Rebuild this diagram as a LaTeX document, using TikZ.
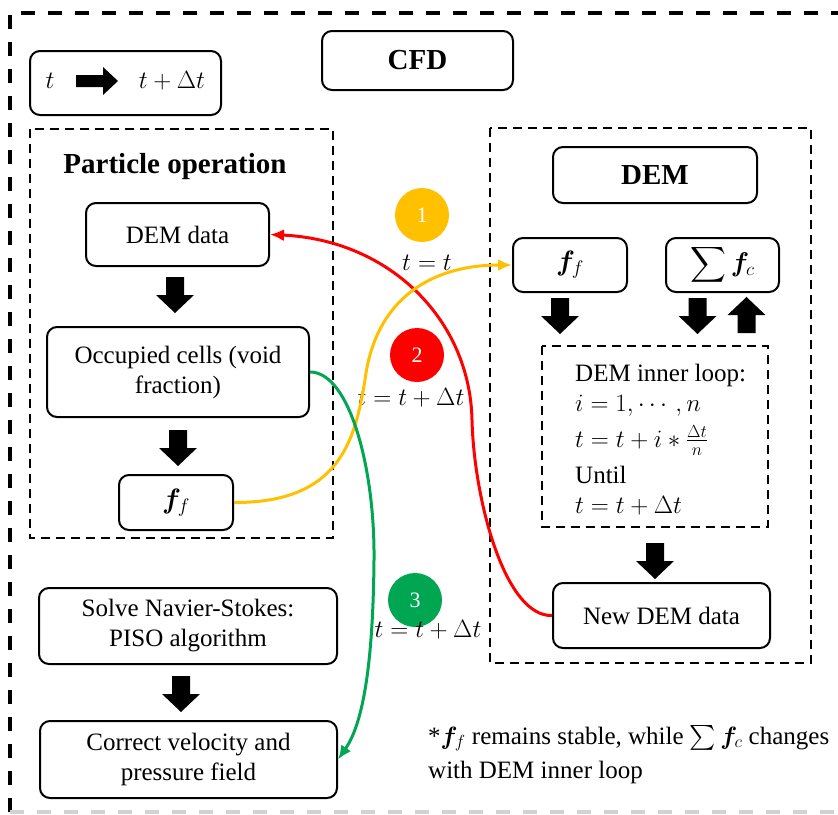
\RequirePackage{fix-cm}
\documentclass[tikz,border=0pt]{standalone}
\usepackage{amsmath,bm}
\usepackage{fontspec}
\setmainfont{Liberation Serif}
\usetikzlibrary{arrows.meta}
\definecolor{cfdorange}{RGB}{255,192,0}
\definecolor{cfdred}{RGB}{255,0,0}
\definecolor{cfdgreen}{RGB}{0,166,81}
\tikzset{
 rbox/.style={draw, line width=2pt, rounded corners=10pt, align=center, inner sep=0pt, font=\fontsize{25}{30}\selectfont},
 dbox/.style={draw, line width=2pt, dash pattern=on 9pt off 6pt},
 outer/.style={line width=4pt, dash pattern=on 14pt off 13pt},
 flow/.style={line width=3pt, -{Latex[length=14pt,width=12pt]}},
 num/.style={circle, minimum size=54pt, inner sep=0pt, text=white, font=\fontsize{22}{26}\selectfont},
 lbl/.style={font=\fontsize{25}{30}\selectfont, inner sep=0pt},
 bigbold/.style={font=\bfseries\fontsize{29}{34}\selectfont},
 pics/darr/.style={code={\fill (-9,0) -- (9,0) -- (9,18) -- (19,18) -- (0,36) -- (-19,18) -- (-9,18) -- cycle;}},
 pics/uarr/.style={code={\fill (-9,36) -- (9,36) -- (9,18) -- (19,18) -- (0,0) -- (-19,18) -- (-9,18) -- cycle;}},
}
\begin{document}
\begin{tikzpicture}[x=1pt,y=-1pt]
\useasboundingbox (0,0) rectangle (838,814);
% outer frame
\draw[outer] (10,812) -- (10,13) -- (850,13);
\draw[outer, gray!35] (10,812) -- (850,812);

% time box
\node[rbox, minimum width=191pt, minimum height=64pt] (tbox) at (125.5,83) {};
\node[lbl] (tA) at (50,81) {$t$};
\fill (76,75) -- (103,75) -- (103,67) -- (118,81) -- (103,95) -- (103,87) -- (76,87) -- cycle;
\node[lbl] (tB) at (172,81) {$t+\Delta t$};

% CFD
\node[rbox, bigbold, minimum width=191pt, minimum height=59pt] (cfd) at (417.5,60.5) {CFD};

% Particle operation
\draw[dbox] (30,129) rectangle (333,538);
\node[lbl, bigbold, anchor=base] (ptitle) at (175,173) {Particle operation};
\node[rbox, minimum width=183pt, minimum height=63pt] (demdata) at (177.5,234.5) {DEM data};
\pic at (175,277) {darr};
\node[rbox, minimum width=262pt, minimum height=90pt] (occ) at (178,372) {Occupied cells (void\\fraction)};
\pic at (178,430) {darr};
\node[rbox, minimum width=114pt, minimum height=55pt, font=\fontsize{28}{32}\selectfont] (ffL) at (176,502.5) {$\bm{f}_{f}$};

% CFD solve
\node[rbox, minimum width=298pt, minimum height=76pt] (ns) at (188,626) {Solve Navier-Stokes:\\PISO algorithm};
\pic at (181,676) {darr};
\node[rbox, minimum width=297pt, minimum height=77pt] (corr) at (188.5,759.5) {Correct velocity and\\pressure field};

% DEM
\draw[dbox] (490,128) rectangle (811,663);
\node[rbox, bigbold, minimum width=204pt, minimum height=56pt] (dem) at (655,175) {DEM};
\node[rbox, minimum width=114pt, minimum height=54pt, font=\fontsize{28}{32}\selectfont] (ffR) at (570,265) {$\bm{f}_{f}$};
\node[rbox, minimum width=113pt, minimum height=54pt, font=\fontsize{27}{32}\selectfont] (fc) at (722.5,265) {$\displaystyle\sum\bm{f}_{c}$};
\pic at (560,298) {darr};
\pic at (697.5,298) {darr};
\pic at (746.5,297) {uarr};
\draw[dbox] (542,346) rectangle (768,527);
\node[lbl, anchor=base west] (il1) at (575,381) {DEM inner loop:};
\node[lbl, anchor=base west] (il2) at (575,411) {$i=1,\cdots,n$};
\node[lbl, anchor=base west] (il3) at (575,447) {$t=t+i*\frac{\Delta t}{n}$};
\node[lbl, anchor=base west] (il4) at (575,483) {Until};
\node[lbl, anchor=base west] (il5) at (575,513) {$t=t+\Delta t$};
\pic at (655,543) {darr};
\node[rbox, minimum width=217pt, minimum height=65pt] (newdem) at (661.5,615.5) {New DEM data};

% numbered steps
\node[num, fill=cfdorange] (n1) at (422,215) {1};
\node[lbl] (L1) at (427,263) {$t=t$};
\node[num, fill=cfdred] (n2) at (417,355) {2};
\node[lbl] (L2) at (411,398) {$t=t+\Delta t$};
\node[num, fill=cfdgreen] (n3) at (415,600) {3};
\node[lbl] (L3) at (428,630) {$t=t+\Delta t$};

% curves
\draw[flow, cfdred] (newdem.west) .. controls (505,617) and (474,500) .. (472,420) .. controls (470,320) and (390,240) .. (demdata.east);
\draw[flow, cfdorange] (ffL.east) .. controls (340,503) and (355,440) .. (365,380) .. controls (375,300) and (430,265) .. (ffR.west);
\draw[flow, cfdgreen] (occ.east) .. controls (350,372) and (375,470) .. (374,560) .. controls (373,670) and (362,725) .. (corr.east);

% footnote
\node[lbl, anchor=base west] (fn1) at (428,744) {*$\bm{f}_{f}$ remains stable, while $\sum\bm{f}_{c}$ changes};
\node[lbl, anchor=base west] (fn2) at (428,778) {with DEM inner loop};
\end{tikzpicture}
\end{document}
